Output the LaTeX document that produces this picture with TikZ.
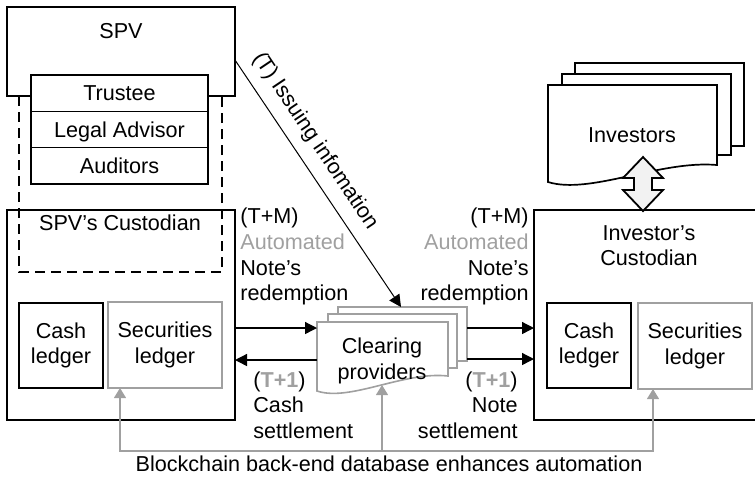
\documentclass[tikz,border=0pt]{standalone}
\usepackage{fontspec}
\setmainfont{Liberation Sans}
\usetikzlibrary{arrows.meta}
\definecolor{mygray}{RGB}{160,160,160}
\definecolor{arrfill}{RGB}{242,242,242}
\begin{document}
\begin{tikzpicture}[x=0.5pt,y=-0.5pt,
  font=\fontsize{10.8}{12.75}\selectfont,
  txt/.style={inner sep=0pt, align=center},
  thickbox/.style={draw=black, line width=1pt, outer sep=0pt},
  thinbox/.style={draw=black, line width=0.6pt, fill=white, outer sep=0pt, inner sep=0pt, align=center},
  graybox/.style={draw=mygray, line width=0.85pt, outer sep=0pt, inner sep=0pt, align=center},
  rowbox/.style={draw=black, line width=0.6pt, fill=white, outer sep=0pt, inner sep=0pt,
     minimum width=88.5pt, minimum height=18.17pt, text height=7.7pt, text depth=0pt},
  blackarrow/.style={draw=black, line width=0.65pt, -{Triangle[length=6pt,width=6pt]}},
  issuearrow/.style={draw=black, line width=0.5pt, -{Triangle[length=6pt,width=6pt]}},
  grayarrow/.style={draw=mygray, line width=0.55pt, -{Triangle[length=5pt,width=6pt]}},
  dashbox/.style={draw=black, line width=1pt, dash pattern=on 5pt off 3pt},
  docblack/.style={draw=black, line width=0.85pt, fill=white, line join=miter},
  docgray/.style={draw=mygray, line width=0.8pt, fill=white, line join=miter},
  blockarrow/.style={draw=black, line width=0.9pt, fill=arrfill, line join=miter},
]
\useasboundingbox (0,0) rectangle (755,479);

% ---------- left side ----------
\draw[dashbox] (19,96) -- (19,272) -- (222,272) -- (222,96);
\node[thickbox, minimum width=114pt, minimum height=44.5pt] (spv) at (121,51.5) {};
\node[txt, anchor=base] (spvt) at (121,38) {SPV};
\node[rowbox] (trustee) at (119.5,93.2) {Trustee};
\node[rowbox] (legal) at (119.5,129.5) {Legal Advisor};
\node[rowbox] (auditors) at (119.5,165.8) {Auditors};

\node[thickbox, minimum width=114pt, minimum height=105pt] (spvc) at (121,315) {};
\node[txt, anchor=base] (spvct) at (120,230) {SPV’s Custodian};
\node[thinbox, minimum width=42pt, minimum height=42.5pt] (cashL) at (61,345.5) {Cash\\ledger};
\node[graybox, minimum width=57pt, minimum height=43pt] (secL) at (165,345) {Securities\\ledger};

% ---------- right side ----------
\draw[docblack] (575,63) rectangle (744,146);
\draw[docblack] (562,74) rectangle (731,155);
\draw[docblack] (548,85) -- (717,85) -- (717,165) .. controls (660,160) and (590,195) .. (548,182) -- cycle;
\node[txt, anchor=base] (inv) at (632,142) {Investors};

\node[thickbox, minimum width=118pt, minimum height=105pt] (invc) at (652,315) {};
\node[txt, anchor=base] (invct1) at (649,240) {Investor’s};
\node[txt, anchor=base] (invct2) at (649,265.5) {Custodian};
\node[thinbox, minimum width=42pt, minimum height=42.5pt] (cashR) at (589,345.5) {Cash\\ledger};
\node[graybox, minimum width=57pt, minimum height=43pt] (secR) at (695,346) {Securities\\ledger};

\coordinate (da) at (643,184);
\draw[blockarrow] (643,157) -- (663,178) -- (652,178) -- (652,190) -- (663,190) -- (643,211)
   -- (623,190) -- (634,190) -- (634,178) -- (623,178) -- cycle;

% ---------- clearing providers ----------
\draw[docgray] (338,307) rectangle (467,361);
\draw[docgray] (328,314) rectangle (457,368);
\draw[docgray] (317,322) -- (448,322) -- (448,376) .. controls (404,371) and (350,402) .. (317,391) -- cycle;
\node[txt] (cp) at (382,361) {Clearing\\providers};
\coordinate (cpL1) at (317,328);
\coordinate (cpL2) at (317,360);
\coordinate (cpR1) at (467,328);
\coordinate (cpR2) at (467,359);
\coordinate (cpTop) at (401,307);
\coordinate (cpB) at (382,385);

% ---------- connectors ----------
\draw[blackarrow] (spvc.east |- cpL1) -- (cpL1);
\draw[blackarrow] (cpL2) -- (spvc.east |- cpL2);
\draw[blackarrow] (cpR1) -- (invc.west |- cpR1);
\draw[blackarrow] (cpR2) -- (invc.west |- cpR2);
\draw[issuearrow] ([yshift=-4.25pt]spv.east) -- (cpTop)
   node[pos=0.376, sloped, above=5.3pt, inner sep=0pt] (issue) {(T) Issuing infomation};

\coordinate (bj) at (382,451);
\draw[grayarrow] (bj) -- (cpB);
\draw[grayarrow] (bj) -| ([xshift=-22.5pt]secL.south);
\draw[grayarrow] (bj) -| ([xshift=-21pt]secR.south);
\node[txt, anchor=base] (chain) at (389,471) {Blockchain back-end database enhances automation};

% ---------- labels ----------
\node[txt, anchor=base west] (lA1) at (240,223) {(T+M)};
\node[txt, anchor=base west, text=mygray] (lA2) at (240,249) {Automated};
\node[txt, anchor=base west] (lA3) at (240,275) {Note’s};
\node[txt, anchor=base west] (lA4) at (240,300) {redemption};

\node[txt, anchor=base east] (rA1) at (529,223) {(T+M)};
\node[txt, anchor=base east, text=mygray] (rA2) at (529,249) {Automated};
\node[txt, anchor=base east] (rA3) at (529,275) {Note’s};
\node[txt, anchor=base east] (rA4) at (529,300) {redemption};

\node[txt, anchor=base west] (lB1) at (253,387) {(\textcolor{mygray}{\textbf{T+1}})};
\node[txt, anchor=base west] (lB2) at (253,412) {Cash};
\node[txt, anchor=base west] (lB3) at (253,438) {settlement};

\node[txt, anchor=base east] (rB1) at (518,387) {(\textcolor{mygray}{\textbf{T+1}})};
\node[txt, anchor=base east] (rB2) at (518,412) {Note};
\node[txt, anchor=base east] (rB3) at (518,438) {settlement};
\end{tikzpicture}
\end{document}
